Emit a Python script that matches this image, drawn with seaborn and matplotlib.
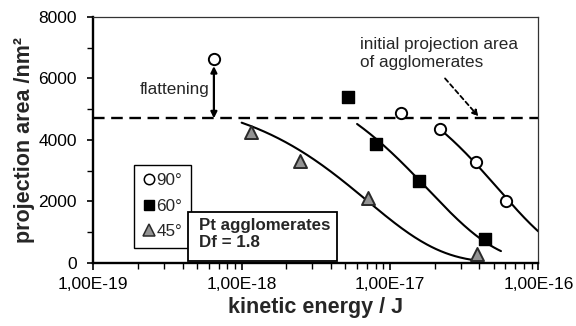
import numpy as np
import pandas as pd
import matplotlib
matplotlib.use("Agg")
import matplotlib.pyplot as plt
import seaborn as sns
from matplotlib.lines import Line2D
from matplotlib.patches import Rectangle
from matplotlib.ticker import LogLocator, NullFormatter, MultipleLocator

# ---------------- data ----------------
energy_90 = [6.5e-19, 1.19e-17, 2.18e-17, 3.79e-17, 6.07e-17]
area_90 = [6630, 4890, 4340, 3270, 2010]
energy_60 = [5.19e-18, 8.05e-18, 1.58e-17, 4.38e-17]
area_60 = [5390, 3850, 2670, 765]
energy_45 = [1.16e-18, 2.48e-18, 7.15e-18, 3.85e-17]
area_45 = [4270, 3320, 2100, 300]

# fitted trend curves  area = A * exp(-(E/E0)^n)
fit_labels = ["90°", "60°", "45°"]
fit_A = [6500, 6500, 5500]
fit_E0 = [5.4e-17, 1.8e-17, 7.0e-18]
fit_n = [1.0, 0.92, 0.86]
fit_Emin = [2.18e-17, 6.0e-18, 1.0e-18]
fit_Emax = [1.0e-16, 5.6e-17, 3.9e-17]

initial_area = 4700
flatten_energy = 6.5e-19
flatten_top = 6400

x_ticks = [1e-19, 1e-18, 1e-17, 1e-16]
x_tick_labels = ["1,00E-19", "1,00E-18", "1,00E-17", "1,00E-16"]
y_ticks = [0, 2000, 4000, 6000, 8000]
y_tick_labels = ["0", "2000", "4000", "6000", "8000"]

# ---------------- style ----------------
sns.set_style("ticks")
plt.rcParams["font.family"] = ["Liberation Sans", "DejaVu Sans"]

fig = plt.figure(figsize=(5.76, 3.26), dpi=100)
ax = fig.add_axes([0.162, 0.194, 0.7726, 0.754])

# trend curves
for A, E0, n, e1, e2 in zip(fit_A, fit_E0, fit_n, fit_Emin, fit_Emax):
    E = np.logspace(np.log10(e1), np.log10(e2), 200)
    y = A * np.exp(-(E / E0) ** n)
    sns.lineplot(x=E, y=y, ax=ax, color="black", lw=1.5, sort=False,
                 estimator=None, zorder=2)

# dashed initial projection area
ax.axhline(initial_area, color="black", lw=1.7, dashes=(4.9, 2.8), zorder=2)

# markers
sns.scatterplot(x=energy_90, y=area_90, ax=ax, marker="o", s=66,
                color="white", edgecolor="black", linewidth=1.4, zorder=4, legend=False)
sns.scatterplot(x=energy_60, y=area_60, ax=ax, marker="s", s=76,
                color="black", edgecolor="black", linewidth=1.0, zorder=4, legend=False)
sns.scatterplot(x=energy_45, y=area_45, ax=ax, marker="^", s=88,
                color="#939393", edgecolor="#2a2a2a", linewidth=1.4, zorder=4, legend=False)

ax.set_xscale("log")
ax.set_xlim(1e-19, 1e-16)
ax.set_ylim(0, 8000)

ax.set_xticks(x_ticks)
ax.set_xticklabels(x_tick_labels)
ax.xaxis.set_minor_locator(LogLocator(base=10, subs=np.arange(2, 10)))
ax.xaxis.set_minor_formatter(NullFormatter())
ax.set_yticks(y_ticks)
ax.set_yticklabels(y_tick_labels)
ax.yaxis.set_minor_locator(MultipleLocator(1000))

ax.tick_params(axis="both", which="both", direction="out", colors="black",
               labelsize=12.5, top=False, right=False)
ax.tick_params(axis="x", which="major", length=5, width=1.2, pad=5)
ax.tick_params(axis="x", which="minor", length=4, width=1.0)
ax.tick_params(axis="y", which="major", length=4, width=1.2, pad=8)
ax.tick_params(axis="y", which="minor", length=4, width=1.0)

for s in ["left", "bottom"]:
    ax.spines[s].set_linewidth(1.7)
    ax.spines[s].set_color("black")
for s in ["top", "right"]:
    ax.spines[s].set_linewidth(0.9)
    ax.spines[s].set_color("#333333")
    ax.spines[s].set_visible(True)

ax.set_xlabel("kinetic energy / J", fontsize=15.5, fontweight="bold", labelpad=4)
ax.set_ylabel("projection area /nm²", fontsize=15.5, fontweight="bold", labelpad=2)

# flattening arrow + text
ax.annotate("", xy=(flatten_energy, flatten_top), xytext=(flatten_energy, initial_area),
            arrowprops=dict(arrowstyle="<|-|>", color="black", lw=1.6,
                            mutation_scale=9, shrinkA=0, shrinkB=0), zorder=3)
ax.text(6.05e-19, 5625, "flattening", ha="right", va="center", fontsize=12.3)

# initial projection area annotation
ax.text(6.3e-18, 6810, "initial projection area\nof agglomerates", ha="left",
        va="center", fontsize=12.3, linespacing=1.3)
ax.annotate("", xy=(3.95e-17, 4760), xytext=(2.35e-17, 6000),
            arrowprops=dict(arrowstyle="-|>", color="black", lw=1.3, ls=(0, (2.5, 1.8)),
                            mutation_scale=9, shrinkA=0, shrinkB=0))

# legend
handles = [
    Line2D([], [], ls="none", marker="o", markersize=7.5, markerfacecolor="white",
           markeredgecolor="black", mew=1.1, label="90°"),
    Line2D([], [], ls="none", marker="s", markersize=7.5, markerfacecolor="black",
           markeredgecolor="black", mew=1.0, label="60°"),
    Line2D([], [], ls="none", marker="^", markersize=8.5, markerfacecolor="#939393",
           markeredgecolor="#2a2a2a", mew=1.1, label="45°"),
]
leg = ax.legend(handles=handles, loc="upper left", bbox_to_anchor=(0.0915, 0.3987),
                bbox_transform=ax.transAxes, borderaxespad=0, frameon=True,
                fancybox=False, edgecolor="black", framealpha=1, fontsize=12.3,
                handlelength=0.7, handletextpad=0.1, labelspacing=0.62, borderpad=0.5)
leg.get_frame().set_linewidth(1.0)
leg.set_zorder(5)

# Pt agglomerates box
ax.add_patch(Rectangle((0.2121, 0.006), 0.3362, 0.2015, transform=ax.transAxes,
                       facecolor="white", edgecolor="black", lw=1.3, zorder=6,
                       clip_on=False))
ax.text(0.2375, 0.133, "Pt agglomerates", transform=ax.transAxes, fontsize=12.2,
        fontweight="bold", va="baseline", ha="left", zorder=7)
ax.text(0.2375, 0.0627, "Df = 1.8", transform=ax.transAxes, fontsize=12.2,
        fontweight="bold", va="baseline", ha="left", zorder=7)

fig.savefig("out.png", dpi=100)
